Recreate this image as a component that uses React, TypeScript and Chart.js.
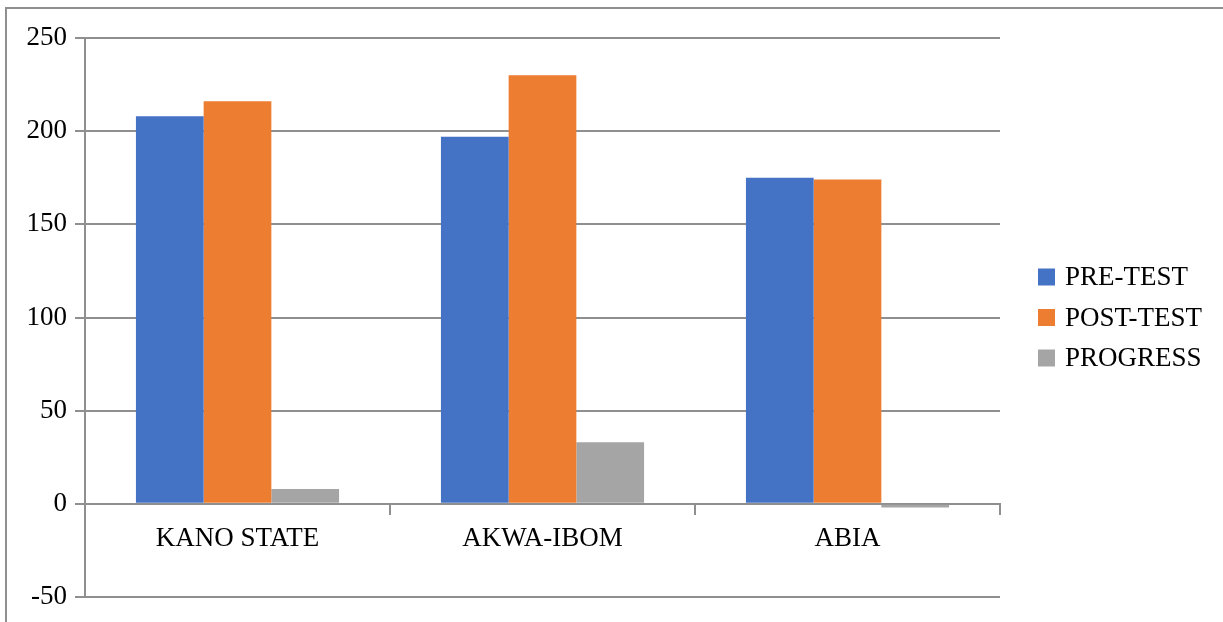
import React, { useEffect, useRef } from 'react';
import { Chart, registerables } from 'chart.js';

Chart.register(...registerables);

const categories = ['KANO STATE', 'AKWA-IBOM', 'ABIA'];
const preTest = [208, 197, 175];
const postTest = [216, 230, 174];
const progress = [8, 33, -2];
const seriesLabels = ['PRE-TEST', 'POST-TEST', 'PROGRESS'];
const seriesColors = ['#4472C4', '#ED7D31', '#A5A5A5'];
const yMin = -50;
const yMax = 250;
const yStep = 50;

const FONT_FAMILY = '"Liberation Serif", "Times New Roman", serif';
const FONT_SIZE = 27;
const GRID = '#8f8f8f';

const framePlugin = {
  id: 'outerFrame',
  beforeDraw(chart: any) {
    const ctx = chart.ctx;
    ctx.save();
    ctx.strokeStyle = GRID;
    ctx.lineWidth = 2;
    ctx.beginPath();
    ctx.moveTo(6, chart.height + 2);
    ctx.lineTo(6, 8);
    ctx.lineTo(chart.width + 2, 8);
    ctx.stroke();
    ctx.restore();
  },
};

const legendPlugin = {
  id: 'sideLegend',
  afterDraw(chart: any) {
    const ctx = chart.ctx;
    const area = chart.chartArea;
    const box = 17;
    const spacing = 40.5;
    const cx = area.right + 38;
    const midY = (area.top + area.bottom) / 2;
    const n = chart.data.datasets.length;
    ctx.save();
    ctx.font = `${FONT_SIZE}px ${FONT_FAMILY}`;
    ctx.textBaseline = 'middle';
    ctx.textAlign = 'left';
    chart.data.datasets.forEach((ds: any, i: number) => {
      const y = midY + (i - (n - 1) / 2) * spacing;
      ctx.fillStyle = ds.backgroundColor;
      ctx.fillRect(cx, y - box / 2, box, box);
      ctx.fillStyle = '#000';
      ctx.fillText(ds.label, cx + 27, y + 1);
    });
    ctx.restore();
  },
};

export default function App() {
  const ref = useRef<HTMLCanvasElement | null>(null);

  useEffect(() => {
    if (!ref.current) return;
    const chart = new Chart(ref.current, {
      type: 'bar',
      data: {
        labels: categories,
        datasets: [preTest, postTest, progress].map((d, i) => ({
          label: seriesLabels[i],
          data: d,
          backgroundColor: seriesColors[i],
          borderWidth: 0,
          categoryPercentage: 0.666,
          barPercentage: 1.0,
        })),
      },
      options: {
        animation: false,
        responsive: false,
        maintainAspectRatio: false,
        layout: { padding: { left: 0, top: 38, right: 223, bottom: 25 } },
        plugins: {
          legend: { display: false },
          tooltip: { enabled: false },
        },
        scales: {
          x: {
            type: 'category',
            position: { y: 0 } as any,
            grid: {
              display: true,
              drawOnChartArea: false,
              drawTicks: true,
              tickLength: 10,
              color: GRID,
              lineWidth: 2,
              offset: true,
            },
            border: { display: true, color: GRID, width: 2 },
            ticks: {
              color: '#000',
              font: { family: FONT_FAMILY, size: FONT_SIZE },
              padding: 9,
              maxRotation: 0,
            },
          },
          y: {
            min: yMin,
            max: yMax,
            grid: { color: GRID, lineWidth: 2, tickLength: 10 },
            border: { display: true, color: GRID, width: 2 },
            ticks: {
              stepSize: yStep,
              color: '#000',
              font: { family: FONT_FAMILY, size: FONT_SIZE },
              padding: 8,
            },
            afterFit(scale: any) {
              scale.width = 85;
            },
          },
        },
      },
      plugins: [framePlugin, legendPlugin],
    });
    return () => chart.destroy();
  }, []);

  return (
    <div style={{ position: 'fixed', left: 0, top: 0, width: 1223, height: 622, background: '#fff' }}>
      <canvas ref={ref} width={1223} height={622} style={{ display: 'block' }} />
    </div>
  );
}
